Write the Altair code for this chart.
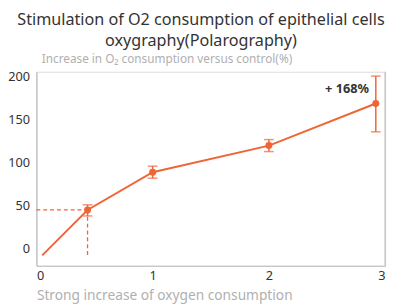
import altair as alt
import pandas as pd

xs = [0.05, 0.44, 1.0, 2.0, 2.92]
ys = [-8, 45, 89, 120, 169]
lo = [None, 38, 82, 113, 136]
hi = [None, 51, 96, 127, 201]

x_ticks = [0, 1, 2, 3]
y_ticks = [0, 50, 100, 150, 200]

guide_x = 0.44
guide_y = 45
guide_bottom = -9
annot = "+ 168%"

ORANGE = "#EF6536"
FONT = "Noto Sans"

df = pd.DataFrame({"x": xs, "y": ys, "lo": lo, "hi": hi})
err = df.dropna()

xscale = alt.Scale(domain=[0, 3], nice=False, zero=False)
yscale = alt.Scale(domain=[-20, 206], nice=False, zero=False)

xaxis = alt.Axis(values=x_ticks, format="d", grid=False, ticks=False, domainColor="#bbbbbb", domainWidth=1.2,
                 labelColor="#333333", labelFontSize=13, labelPadding=4, labelFont=FONT,
                 title="Strong increase of oxygen consumption", titleColor="#b0b0b0",
                 titleFontSize=14, titleFontWeight="normal", titleFont=FONT,
                 titleAnchor="start", titleAlign="left", titleBaseline="middle", titleX=0, titleY=30)
yaxis = alt.Axis(values=y_ticks, grid=False, ticks=False, domainColor="#bbbbbb", domainWidth=1.2,
                 labelColor="#333333", labelFontSize=13, labelPadding=7, labelFont=FONT,
                 title="Increase in O₂ consumption versus control(%)", titleColor="#b0b0b0",
                 titleFontSize=12, titleFontWeight="normal", titleFont=FONT, titleAngle=0,
                 titleAlign="left", titleBaseline="bottom", titleX=5, titleY=-6)

base = alt.Chart(df)

line = base.mark_line(color=ORANGE, strokeWidth=2).encode(
    x=alt.X("x:Q", scale=xscale, axis=xaxis),
    y=alt.Y("y:Q", scale=yscale, axis=yaxis),
)
pts = alt.Chart(df.iloc[1:]).mark_circle(color=ORANGE, size=50, opacity=1).encode(
    x="x:Q", y="y:Q")

ebar = alt.Chart(err).mark_rule(color=ORANGE, strokeWidth=1.5).encode(
    x="x:Q", y="lo:Q", y2="hi:Q")
cap_lo = alt.Chart(err).mark_tick(color=ORANGE, orient="horizontal", size=10, thickness=1.5).encode(
    x="x:Q", y="lo:Q")
cap_hi = alt.Chart(err).mark_tick(color=ORANGE, orient="horizontal", size=10, thickness=1.5).encode(
    x="x:Q", y="hi:Q")

gdf = pd.DataFrame({"gx": [guide_x], "gy": [guide_y], "gb": [guide_bottom], "x0": [0]})
hguide = alt.Chart(gdf).mark_rule(color=ORANGE, strokeWidth=1.3, strokeDash=[4, 3]).encode(
    x="x0:Q", x2="gx:Q", y="gy:Q")
vguide = alt.Chart(gdf).mark_rule(color=ORANGE, strokeWidth=1.3, strokeDash=[4, 3]).encode(
    x="gx:Q", y="gy:Q", y2="gb:Q")

rdf = pd.DataFrame({"rx": [3], "t": [206], "b": [-20]})
rborder = alt.Chart(rdf).mark_rule(color="#bbbbbb", strokeWidth=1.2).encode(
    x="rx:Q", y="t:Q", y2="b:Q")

adf = pd.DataFrame({"x": [xs[-1]], "y": [ys[-1]], "t": [annot]})
label = alt.Chart(adf).mark_text(align="right", baseline="bottom", dx=-7, dy=-8,
                                 fontSize=13, fontWeight="bold", color="#333333", font=FONT).encode(
    x="x:Q", y="y:Q", text="t:N")

chart = alt.layer(rborder, hguide, vguide, line, ebar, cap_lo, cap_hi, pts, label).properties(
    width=356, height=198,
    autosize=alt.AutoSizeParams(type="none"),
    padding={"left": 29, "top": 62, "right": 5, "bottom": 38},
    title=alt.TitleParams(
        text=["Stimulation of O2 consumption of epithelial cells", "oxygraphy(Polarography)"],
        anchor="middle", fontSize=16.5, fontWeight="normal", color="#333333", font=FONT,
        lineHeight=21, offset=4, dx=-10,
    ),
).configure_view(stroke=None).configure(background="white")

chart.save("out.html", embed_options={"renderer": "svg", "actions": False})
